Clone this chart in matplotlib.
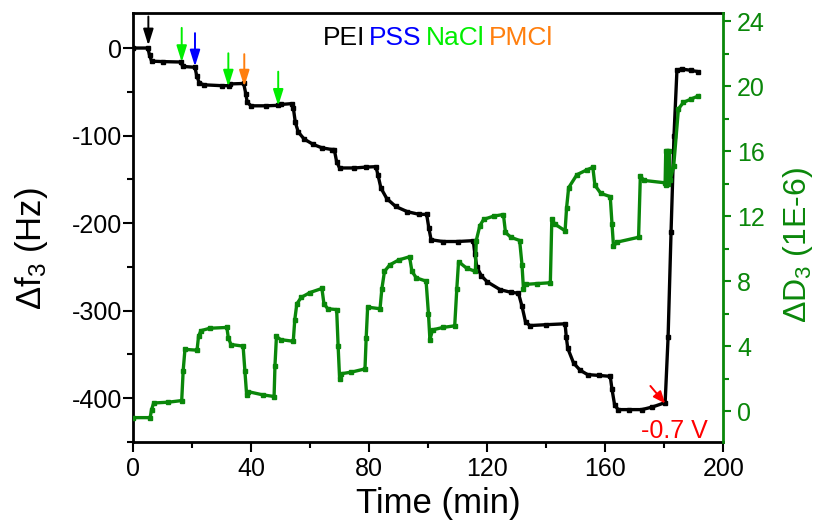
import matplotlib
matplotlib.use("Agg")
import matplotlib.pyplot as plt
from matplotlib import font_manager
from matplotlib.ticker import MultipleLocator
from matplotlib.offsetbox import TextArea, HPacker, AnchoredOffsetbox

# frequency shift (left axis)
time_f = [0, 5.0, 5.6, 6.3, 10, 16.3, 16.8, 21.0, 21.6, 22.5, 24, 30, 32.5, 33, 37.5,
          38.2, 38.7, 40, 45, 49, 50, 53.8, 54.3, 55, 56, 58, 61, 64, 67.5, 68.2,
          69, 70, 75, 79, 82.3, 83, 84, 86, 89, 93, 97, 99.5, 100.2, 101, 105, 110,
          115.3, 115.8, 116.5, 118, 120, 124.4, 128, 130.6, 131.8, 133, 134.5, 140,
          146.4, 146.8, 147.3, 149.3, 151.5, 154, 158, 161.7, 162.3, 163.2, 164.4,
          168, 172.4, 176, 180.3, 181.3, 182.3, 183.3, 184.3, 186, 189, 191.5]
df3 = [0, 0, -8, -15, -15.5, -16, -21, -22, -32, -40, -42, -43, -43, -41, -40.5,
       -52, -62, -66, -66, -65.5, -64.5, -63.5, -68, -85, -96, -104, -110, -114, -116, -116,
       -130, -137, -137, -136, -135.5, -145, -160, -172, -181, -187, -190, -190, -205, -219, -221, -221,
       -220, -235, -250, -260, -267, -276, -279, -280, -295, -313, -317, -316,
       -315, -330, -343, -360, -368, -373, -374, -375, -390, -408, -413,
       -413, -413, -410, -405, -330, -210, -100, -25, -24, -25.5, -27]

# dissipation shift (right axis)
time_d = [0, 5.8, 6.3, 7, 12, 16.5, 17, 17.6, 21.7, 22.2, 23, 26, 31.8, 32.3, 33.2, 37.3,
          37.9, 38.5, 39, 44, 47.8, 48.1, 48.6, 50, 54.3, 54.8, 55.5, 57, 60, 64, 64.7,
          66, 69, 69.5, 70, 70.5, 74, 78.6, 79, 79.5, 83.7, 84.3, 85.2, 87, 90, 93.7,
          94.5, 96, 99.3, 100.1, 100.6, 101.5, 105, 109, 109.7, 110.3, 113, 116, 116.3,
          117.5, 118.8, 122.2, 125.5, 126.2, 128, 131, 131.8, 132.3, 133, 137, 141.4,
          141.9, 143, 146.4, 146.9, 147.6, 150.4, 153.8, 155.8, 156.5, 158.5, 161.7,
          162.3, 162.8, 164, 171.3, 171.9, 173, 180.3, 180.5, 180.7, 181.0, 181.3, 181.6,
          182, 183.2, 184.8, 186.5, 189, 191.6]
dd3 = [-0.4, -0.4, 0.1, 0.5, 0.55, 0.65, 2.5, 3.8, 3.75, 4.6, 4.95, 5.1, 5.15, 4.5, 4.1, 4.0,
       2.5, 1.0, 1.2, 1.0, 0.9, 2.8, 4.6, 4.4, 4.3, 5.6, 6.6, 7.0, 7.3, 7.55, 6.6,
       6.3, 6.25, 4.0, 2.0, 2.3, 2.4, 2.6, 4.5, 6.4, 6.3, 7.5, 8.6, 9.0, 9.3, 9.5,
       8.6, 8.2, 8.0, 6.0, 4.4, 5.0, 5.15, 5.25, 7.5, 9.2, 8.8, 8.6, 10.5,
       11.4, 11.8, 12.0, 12.1, 11.0, 10.7, 10.5, 9.0, 7.5, 7.8, 7.85, 7.9,
       11.8, 11.5, 11.1, 12.5, 13.75, 14.55, 14.85, 15.0, 13.9, 13.4, 13.2,
       11.5, 10.15, 10.4, 10.7, 14.5, 14.2, 14.05, 16.0, 13.9, 16.0, 14.0, 16.0,
       14.2, 15.1, 18.6, 19.0, 19.2, 19.4]

# injection arrows: (time, top, tip) in Hz, colour
arrow_time = [5.2, 16.5, 21.0, 32.3, 37.7, 49.2]
arrow_top = [36, 23, 17, -6, -7, -27]
arrow_tip = [3, -16, -21, -44, -44, -66]
arrow_color = ['black', '#00ee00', '#0000ff', '#00ee00', '#ff7f0e', '#00ee00']

legend_words = ['PEI', 'PSS', 'NaCl', 'PMCl']
legend_colors = ['black', '#0000ff', '#00ee00', '#ff7f0e']

names = {f.name for f in font_manager.fontManager.ttflist}
FONT = 'Liberation Sans Narrow' if 'Liberation Sans Narrow' in names else 'Liberation Sans'
plt.rcParams['font.family'] = [FONT, 'Liberation Sans', 'DejaVu Sans']
plt.rcParams['mathtext.fontset'] = 'custom'
plt.rcParams['mathtext.rm'] = FONT
plt.rcParams['mathtext.it'] = FONT
plt.rcParams['axes.unicode_minus'] = False

GREEN = '#0a870a'

fig = plt.figure(figsize=(8.17, 5.31), dpi=100)
ax = fig.add_axes([0.1628, 0.1676, 0.7225, 0.8079])
ax2 = ax.twinx()

ax.plot(time_f, df3, color='black', lw=2.4, marker='s', ms=2.5, zorder=3)
ax2.plot(time_d, dd3, color=GREEN, lw=2.4, marker='s', ms=2.5)

ax.set_xlim(0, 200)
ax.set_ylim(-450, 40)
ax2.set_ylim(-1.9, 24.5)

ax.xaxis.set_major_locator(MultipleLocator(40))
ax.xaxis.set_minor_locator(MultipleLocator(20))
ax.yaxis.set_major_locator(MultipleLocator(100))
ax.yaxis.set_minor_locator(MultipleLocator(50))
ax2.yaxis.set_major_locator(MultipleLocator(4))
ax2.yaxis.set_minor_locator(MultipleLocator(2))

for s in ax.spines.values():
    s.set_linewidth(2)
ax.spines['right'].set_visible(False)
for k in ['left', 'top', 'bottom']:
    ax2.spines[k].set_visible(False)
ax2.spines['right'].set_color(GREEN)
ax2.spines['right'].set_linewidth(2)

ax.tick_params(which='major', direction='out', length=7, width=1.5, labelsize=18, pad=4)
ax.tick_params(which='minor', direction='out', length=4, width=1.5)
ax.tick_params(axis='y', pad=1)
ax2.tick_params(which='major', direction='out', length=6, width=1.5, labelsize=18,
                pad=4, color=GREEN, labelcolor=GREEN)
ax2.tick_params(which='minor', direction='out', length=4, width=1.5, color=GREEN)

ax.set_xlabel('Time (min)', fontsize=25)
ax.xaxis.set_label_coords(0.517, -0.105)
ax.set_ylabel(r'$\Delta$f$_3$ (Hz)', fontsize=25)
ax.yaxis.set_label_coords(-0.14, 0.45)
ax2.set_ylabel(r'$\Delta$D$_3$ (1E-6)', fontsize=23, color=GREEN)
ax2.yaxis.set_label_coords(1.098, 0.46)

for t, y0, y1, c in zip(arrow_time, arrow_top, arrow_tip, arrow_color):
    ax.annotate('', xy=(t, y1), xytext=(t, y0),
                arrowprops=dict(arrowstyle='-|>,head_length=0.7,head_width=0.22',
                                color=c, lw=1.4, mutation_scale=14, shrinkA=0, shrinkB=0))

ax.annotate('', xy=(180.3, -406), xytext=(175.3, -386),
            arrowprops=dict(arrowstyle='-|>,head_length=0.6,head_width=0.25',
                            color='red', lw=1.4, mutation_scale=12, shrinkA=0, shrinkB=0))
ax.text(183.4, -438, '-0.7 V', color='red', fontsize=18, ha='center', va='center')

boxes = [TextArea(w, textprops=dict(color=c, fontsize=19)) for w, c in zip(legend_words, legend_colors)]
pack = HPacker(children=boxes, align='center', pad=0, sep=3)
anchored = AnchoredOffsetbox(loc='center', child=pack, pad=0, borderpad=0, frameon=False,
                             bbox_to_anchor=(0.516, 0.942), bbox_transform=ax.transAxes)
ax.add_artist(anchored)

fig.savefig('out.png', dpi=100)
